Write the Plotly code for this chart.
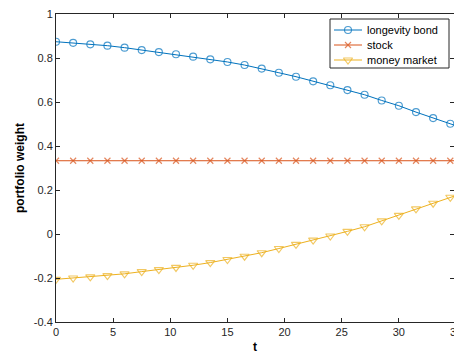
import plotly.graph_objects as go

t = [0, 1.5, 3, 4.5, 6, 7.5, 9, 10.5, 12, 13.5, 15, 16.5, 18, 19.5, 21, 22.5,
     24, 25.5, 27, 28.5, 30, 31.5, 33, 34.5, 35]
longevity_bond = [0.874, 0.869, 0.862, 0.856, 0.847, 0.836, 0.827, 0.817, 0.806,
                  0.794, 0.782, 0.768, 0.752, 0.733, 0.715, 0.694, 0.676, 0.654,
                  0.633, 0.607, 0.583, 0.554, 0.527, 0.501, 0.492]
stock = [0.333] * 25
money_market = [-0.206, -0.200, -0.195, -0.189, -0.181, -0.171, -0.162, -0.152,
                -0.142, -0.130, -0.116, -0.101, -0.085, -0.066, -0.047, -0.028,
                -0.009, 0.012, 0.033, 0.060, 0.085, 0.114, 0.140, 0.167, 0.175]
series_names = ["longevity bond", "stock", "money market"]
x_ticks = [0, 5, 10, 15, 20, 25, 30]
y_ticks = [-0.4, -0.2, 0, 0.2, 0.4, 0.6, 0.8, 1]
y_tick_text = ["-0.4", "-0.2", "0", "0.2", "0.4", "0.6", "0.8", "1"]

W, H = 454, 354
ML, MR, MT, MB = 56, 0, 14, 32
XMAX_FULL = 35
px_per_unit = 400 / XMAX_FULL
x_hi = (W - ML - MR) / px_per_unit
PW, PH = W - ML - MR, H - MT - MB

def fx(px):  # pixel -> paper x
    return (px - ML) / PW

def fy(py):  # pixel -> paper y
    return (H - MB - py) / PH

msz = lambda s: [s] * (len(t) - 1) + [0]

TXT = "#262626"
FONT = "Liberation Sans, Arial, Helvetica, sans-serif"
colors = ["#0072BD", "#D95319", "#EDB120"]
symbols = ["circle-open", "x-thin-open", "triangle-down-open"]
sizes = [7, 6, 8]

fig = go.Figure()
for name, vals, c, sym, sz in zip(series_names, [longevity_bond, stock, money_market],
                                  colors, symbols, sizes):
    fig.add_trace(go.Scatter(
        x=t, y=vals, name=name, mode="lines+markers", showlegend=False,
        line=dict(color=c, width=1),
        marker=dict(symbol=sym, size=msz(sz), color=c, line=dict(width=1.15, color=c)),
    ))

# ---- legend (MATLAB-style compact box) ----
LG_X0, LG_X1, LG_Y0, LG_Y1 = 330, 449, 19, 68
row_y = [30, 45, 60]
key_x0, key_x1, txt_x = 334, 362, 365
fig.add_shape(type="rect", xref="paper", yref="paper",
              x0=fx(LG_X0), x1=fx(LG_X1), y0=fy(LG_Y1), y1=fy(LG_Y0),
              fillcolor="white", line=dict(color=TXT, width=1), layer="below")
for name, c, sym, sz, ry in zip(series_names, colors, symbols, sizes, row_y):
    fig.add_trace(go.Scatter(
        x=[fx(key_x0), fx((key_x0 + key_x1) / 2), fx(key_x1)], y=[fy(ry)] * 3,
        xaxis="x2", yaxis="y2", mode="lines+markers", showlegend=False,
        hoverinfo="skip", cliponaxis=False,
        line=dict(color=c, width=1),
        marker=dict(symbol=sym, size=[0, sz, 0], color=c, line=dict(width=1.15, color=c)),
    ))
    fig.add_annotation(x=fx(txt_x), y=fy(ry), xref="paper", yref="paper",
                       text=name, showarrow=False, xanchor="left", yanchor="middle",
                       font=dict(family=FONT, size=11, color="#000000"))

axis_common = dict(
    showgrid=False, zeroline=False, showline=True, linecolor=TXT, linewidth=1,
    mirror="ticks", ticks="inside", ticklen=4, tickwidth=1, tickcolor=TXT,
    tickfont=dict(family=FONT, size=11, color=TXT),
)

fig.update_layout(
    width=W, height=H,
    margin=dict(l=ML, r=MR, t=MT, b=MB),
    paper_bgcolor="white", plot_bgcolor="white",
    font=dict(family=FONT, size=11, color=TXT),
    showlegend=False,
    xaxis=dict(
        range=[0, x_hi], tickvals=x_ticks, **axis_common,
        title=dict(text="<b>t</b>", font=dict(family=FONT, size=12, color="#000000"),
                   standoff=5),
    ),
    yaxis=dict(
        range=[-0.4, 1], tickvals=y_ticks, ticktext=y_tick_text, **axis_common,
        title=dict(text="<b>portfolio weight</b>",
                   font=dict(family=FONT, size=12, color="#000000"), standoff=6),
    ),
    xaxis2=dict(range=[0, 1], overlaying="x", visible=False, anchor="y2"),
    yaxis2=dict(range=[0, 1], overlaying="y", visible=False, anchor="x2"),
)

fig.add_annotation(
    x=XMAX_FULL / x_hi, xref="paper", y=0, yref="paper",
    text="35", showarrow=False, xanchor="center", yanchor="top", yshift=-2,
    font=dict(family=FONT, size=11, color=TXT),
)

fig.write_html("out.html")
